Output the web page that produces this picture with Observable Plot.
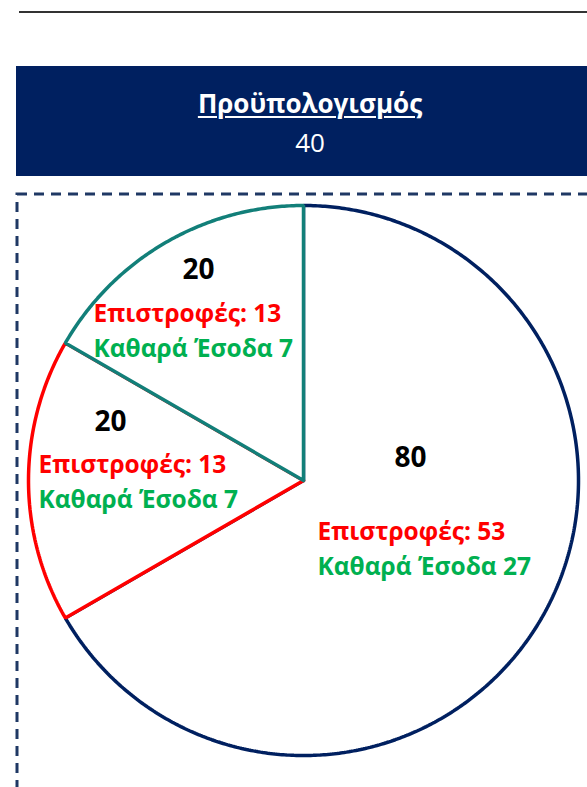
<!DOCTYPE html>
<html>
<head>
<meta charset="utf-8">
<script src="https://cdn.jsdelivr.net/npm/d3@7"></script>
<script src="https://cdn.jsdelivr.net/npm/@observablehq/plot@0.6"></script>
<style>
  html, body { margin: 0; padding: 0; background: #fff; }
  body { width: 587px; height: 787px; overflow: hidden; position: relative; font-family: "Open Sans", sans-serif; }
  #topline { position: absolute; left: 19px; right: 0; top: 11px; border-top: 2px solid #333; }
  #banner { position: absolute; left: 16px; top: 66px; width: 588px; height: 110px; background: #002060; color: #fff; text-align: center; }
  #banner .t { position: absolute; left: 0; right: 0; top: 22px; font-size: 26px; font-weight: 700; text-decoration: underline; text-decoration-thickness: 1.5px; text-underline-offset: 3px; line-height: 30px; }
  #banner .v { position: absolute; left: 0; right: 0; top: 60px; font-size: 26px; font-weight: 400; line-height: 33px; }
  #chart { position: absolute; left: 0; top: 176px; }
</style>
</head>
<body>
<div id="topline"></div>
<div id="banner"><div class="t" id="title"></div><div class="v" id="value"></div></div>
<div id="chart"></div>
<script>
// ---- data ----
const budgetTitle = "Προϋπολογισμός";
const budgetValue = 40;
const sliceNames = ["A", "B", "C"];
const sliceValues = [80, 20, 20];
const returnsValues = [53, 13, 13];
const netValues = [27, 7, 7];
const returnsLabel = "Επιστροφές: ";
const netLabel = "Καθαρά Έσοδα ";

// ---- styles / layout ----
const sliceColors = ["#002060", "#FF0000", "#127F79"];
const returnsColor = "#FF0000";
const netColor = "#00B050";
const cx = 303, cy = 480, R = 275;
// label offsets relative to pie centre
const numberOffsets = [[107, -14], [-193, -50], [-105, -202]];
const textOffsets = [[14, 59], [-265, -8], [-210, -159]];
const lineGap = 35;

document.getElementById("title").textContent = budgetTitle;
document.getElementById("value").textContent = budgetValue;

const arcs = d3.pie().sort(null)(sliceValues);
const slicePoints = arcs.map((a, i) => {
  const pts = [{x: cx, y: cy}];
  const n = Math.max(2, Math.ceil((a.endAngle - a.startAngle) / (Math.PI / 360)));
  for (let k = 0; k <= n; k++) {
    const t = a.startAngle + (a.endAngle - a.startAngle) * k / n;
    pts.push({x: cx + R * Math.sin(t), y: cy - R * Math.cos(t)});
  }
  pts.push({x: cx, y: cy});
  return pts;
});

const numbers = sliceValues.map((v, i) => ({label: String(v), x: cx + numberOffsets[i][0], y: cy + numberOffsets[i][1]}));
const retTexts = returnsValues.map((v, i) => ({label: returnsLabel + v, x: cx + textOffsets[i][0], y: cy + textOffsets[i][1]}));
const netTexts = netValues.map((v, i) => ({label: netLabel + v, x: cx + textOffsets[i][0], y: cy + textOffsets[i][1] + lineGap}));

const chart = Plot.plot({
  width: 587,
  height: 611,
  marginLeft: 16.5,
  marginTop: 17.5,
  marginRight: 0,
  marginBottom: 0,
  x: {domain: [0, 587], range: [0, 587], axis: null},
  y: {domain: [176, 787], range: [0, 611], axis: null},
  style: {fontFamily: "Open Sans, sans-serif", background: "transparent", overflow: "hidden"},
  marks: [
    Plot.frame({stroke: "#1F3864", strokeWidth: 3, strokeDasharray: "10 7", insetRight: -60, insetBottom: -60}),
    ...slicePoints.map((pts, i) => Plot.line(pts, {x: "x", y: "y", stroke: sliceColors[i], fill: "white", strokeWidth: 3.5, strokeLinejoin: "miter", curve: "linear"})),
    Plot.text(numbers, {x: "x", y: "y", text: "label", fill: "black", fontWeight: "bold", fontSize: 28, textAnchor: "middle", lineAnchor: "bottom"}),
    Plot.text(retTexts, {x: "x", y: "y", text: "label", fill: returnsColor, fontWeight: "bold", fontSize: 24.5, textAnchor: "start", lineAnchor: "bottom"}),
    Plot.text(netTexts, {x: "x", y: "y", text: "label", fill: netColor, fontWeight: "bold", fontSize: 24.5, textAnchor: "start", lineAnchor: "bottom"})
  ]
});
document.getElementById("chart").appendChild(chart);
</script>
</body>
</html>
